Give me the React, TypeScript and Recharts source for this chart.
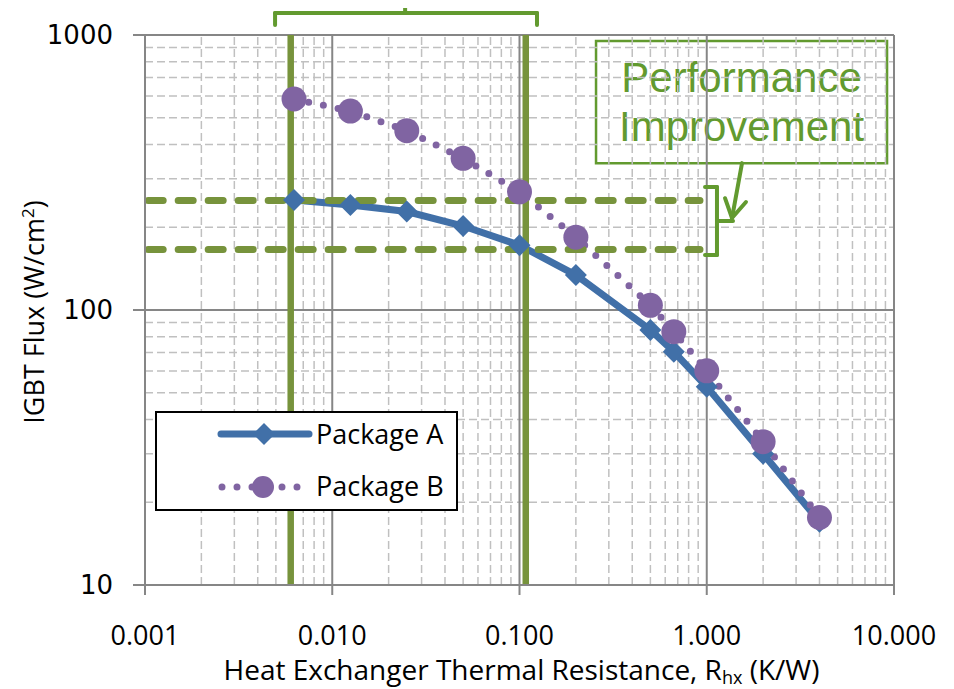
import React from 'react';
import { LineChart, Line, XAxis, YAxis, ReferenceLine, ReferenceArea, Legend, Label } from 'recharts';

// ---- data ----
const rhx = [0.00625, 0.0125, 0.025, 0.05, 0.1, 0.2, 0.5, 0.667, 1, 2, 4];
const packageA = [251, 241, 228, 202, 172, 134, 84.6, 70.5, 52.6, 30.0, 17.0];
const packageB = [585, 529, 449, 356, 269, 184, 104, 83.4, 60.1, 33.2, 17.6];
const xTicks = [0.001, 0.01, 0.1, 1, 10];
const yTicks = [10, 100, 1000];
const rangeLines = [0.006, 0.108];
const fluxLevels = [250, 166];
const fluxLineEnd = 0.92;

// annotation anchors (data coordinates)
const topBracketX = [0.00495, 0.0245, 0.124];
const topBracketY = [1087, 1202, 1400];
const rightBracketX = [0.979, 1.134, 1.381];
const rightBracketY = [280, 210.7, 158.5];
const arrowFrom = { x: 1.543, y: 342 };
const arrowTip = { x: 1.364, y: 216 };
const arrowWings = [{ x: 1.252, y: 255 }, { x: 1.62, y: 247 }];
const calloutBox = { x1: 0.2563, x2: 9.18, y1: 342, y2: 951 };
const calloutText = ['Performance', 'Improvement'];

const data = rhx.map((x, i) => ({ x, a: packageA[i], b: packageB[i] }));

const minorX: number[] = [];
for (let e = -3; e < 1; e++) for (let m = 2; m <= 9; m++) minorX.push(+(m * Math.pow(10, e)).toPrecision(3));
const minorY: number[] = [];
for (let e = 1; e < 3; e++) for (let m = 2; m <= 9; m++) minorY.push(+(m * Math.pow(10, e)).toPrecision(3));
const majorX = [0.01, 0.1, 1, 10];
const majorY = [100, 1000];

const BLUE = '#4170A8';
const PURPLE = '#8064A2';
const OLIVE = '#77933C';
const GREEN = '#629A2F';
const GRID_MAJOR = '#868686';
const GRID_MINOR = '#C0C0C0';
const CAL = '"Open Sans", Lato, sans-serif';

const diamond = (p: any) => {
  const { cx, cy, index } = p;
  if (cx == null || cy == null) return <g key={`da-${index}`} />;
  const r = 11;
  return (
    <polygon key={`da-${index}`} points={`${cx},${cy - r} ${cx + r},${cy} ${cx},${cy + r} ${cx - r},${cy}`} fill={BLUE} />
  );
};
const bigDot = (p: any) => {
  const { cx, cy, index } = p;
  if (cx == null || cy == null) return <g key={`db-${index}`} />;
  return <circle key={`db-${index}`} cx={cx} cy={cy} r={12.5} fill={PURPLE} />;
};

const XTitle = (props: any) => {
  const vb = props.viewBox || { x: 145, y: 585, width: 749 };
  const cx = vb.x + vb.width / 2 + 2;
  return (
    <text x={cx} y={vb.y + 95} textAnchor="middle" fontFamily={CAL} fontSize={28} fill="#000">
      Heat Exchanger Thermal Resistance, R<tspan fontSize={18} dy={4}>hx</tspan>
      <tspan dy={-4}> (K/W)</tspan>
    </text>
  );
};

const YTitle = (props: any) => {
  const vb = props.viewBox || { x: 85, y: 35, height: 550 };
  const cy = vb.y + vb.height / 2 + 2;
  return (
    <text transform={`translate(44,${cy}) rotate(-90)`} textAnchor="middle" fontFamily={CAL} fontSize={27} fill="#000">
      IGBT Flux (W/cm<tspan fontSize={17} dy={-10}>2</tspan>
      <tspan dy={10}>)</tspan>
    </text>
  );
};

const CalloutLabel = (props: any) => {
  const vb = props.viewBox;
  if (!vb) return null;
  const cx = vb.x + vb.width / 2;
  return (
    <g>
      <text x={cx} y={vb.y + 51} textAnchor="middle" fontFamily='"Liberation Sans", Arial, sans-serif' fontSize={42} fill={GREEN}>
        {calloutText[0]}
      </text>
      <text x={cx} y={vb.y + 100} textAnchor="middle" fontFamily='"Liberation Sans", Arial, sans-serif' fontSize={42} fill={GREEN}>
        {calloutText[1]}
      </text>
    </g>
  );
};

const LegendBox = () => (
  <div style={{ width: 303, height: 100, border: '2px solid #000', background: '#fff', boxSizing: 'border-box' }}>
    <svg width={299} height={96} style={{ display: 'block' }}>
      <line x1={64} y1={21} x2={152} y2={21} stroke={BLUE} strokeWidth={7} strokeLinecap="round" />
      <polygon points="107,10 118,21 107,32 96,21" fill={BLUE} />
      <text x={159} y={31} fontFamily={CAL} fontSize={27} fill="#000">Package A</text>
      <line x1={65} y1={74} x2={152} y2={74} stroke={PURPLE} strokeWidth={7} strokeDasharray="0 15" strokeLinecap="round" />
      <circle cx={106} cy={74} r={11} fill={PURPLE} />
      <text x={159} y={83} fontFamily={CAL} fontSize={27} fill="#000">Package B</text>
    </svg>
  </div>
);

const seg = (x1: number, y1: number, x2: number, y2: number) => [{ x: x1, y: y1 }, { x: x2, y: y2 }];

export default function App() {
  const annot = { stroke: GREEN, strokeWidth: 4, strokeLinecap: 'round' as const, ifOverflow: 'visible' as const };
  return (
    <div style={{ margin: '-8px 0 0 -8px', width: 954, height: 689, background: '#fff' }}>
      <LineChart width={954} height={689} data={data} margin={{ top: 35, right: 60, bottom: 44, left: 85 }}>
        {minorX.map((v) => (
          <ReferenceLine key={`mx-${v}`} x={v} stroke={GRID_MINOR} strokeWidth={1.5} strokeDasharray="8 4" />
        ))}
        {minorY.map((v) => (
          <ReferenceLine key={`my-${v}`} y={v} stroke={GRID_MINOR} strokeWidth={1.5} strokeDasharray="8 4" />
        ))}
        {majorX.map((v) => (
          <ReferenceLine key={`Mx-${v}`} x={v} stroke={GRID_MAJOR} strokeWidth={2} />
        ))}
        {majorY.map((v) => (
          <ReferenceLine key={`My-${v}`} y={v} stroke={GRID_MAJOR} strokeWidth={2} />
        ))}
        <XAxis
          dataKey="x"
          type="number"
          scale="log"
          domain={[0.001, 10]}
          allowDataOverflow
          ticks={xTicks}
          tickFormatter={(v: number) => v.toFixed(3)}
          height={60}
          tickSize={10}
          tickMargin={31}
          axisLine={{ stroke: GRID_MAJOR, strokeWidth: 2 }}
          tickLine={{ stroke: GRID_MAJOR, strokeWidth: 2 }}
          tick={{ fontFamily: CAL, fontSize: 27, fill: '#000' }}
        >
          <Label content={XTitle} />
        </XAxis>
        <YAxis
          type="number"
          scale="log"
          domain={[10, 1000]}
          allowDataOverflow
          ticks={yTicks}
          width={60}
          tickSize={12}
          tickMargin={20}
          axisLine={{ stroke: GRID_MAJOR, strokeWidth: 2 }}
          tickLine={{ stroke: GRID_MAJOR, strokeWidth: 2 }}
          tick={{ fontFamily: '"DejaVu Sans", Verdana, sans-serif', fontSize: 26, fill: '#000' }}
        >
          <Label content={YTitle} />
        </YAxis>
        <Line
          dataKey="a"
          name="Package A"
          stroke={BLUE}
          strokeWidth={7}
          dot={diamond}
          activeDot={false}
          isAnimationActive={false}
        />
        <Line
          dataKey="b"
          name="Package B"
          stroke={PURPLE}
          strokeWidth={7}
          strokeDasharray="0 15"
          strokeLinecap="round"
          dot={bigDot}
          activeDot={false}
          isAnimationActive={false}
        />
        {fluxLevels.map((v) => (
          <ReferenceLine
            key={`fl-${v}`}
            segment={seg(0.00104, v, fluxLineEnd, v)}
            stroke={OLIVE}
            strokeWidth={7}
            strokeDasharray="15 15"
            strokeLinecap="round"
          />
        ))}
        {rangeLines.map((v) => (
          <ReferenceLine key={`rl-${v}`} x={v} stroke={OLIVE} strokeWidth={6.5} />
        ))}
        {/* top bracket */}
        <ReferenceLine segment={seg(topBracketX[0], topBracketY[0], topBracketX[0], topBracketY[1])} {...annot} />
        <ReferenceLine segment={seg(topBracketX[0], topBracketY[1], topBracketX[2], topBracketY[1])} {...annot} />
        <ReferenceLine segment={seg(topBracketX[2], topBracketY[1], topBracketX[2], topBracketY[0])} {...annot} />
        <ReferenceLine segment={seg(topBracketX[1], topBracketY[1], topBracketX[1], topBracketY[2])} {...annot} />
        {/* right bracket */}
        <ReferenceLine segment={seg(rightBracketX[0], rightBracketY[0], rightBracketX[1], rightBracketY[0])} {...annot} />
        <ReferenceLine segment={seg(rightBracketX[1], rightBracketY[0], rightBracketX[1], rightBracketY[2])} {...annot} />
        <ReferenceLine segment={seg(rightBracketX[1], rightBracketY[2], rightBracketX[0], rightBracketY[2])} {...annot} />
        <ReferenceLine segment={seg(rightBracketX[1], rightBracketY[1], rightBracketX[2], rightBracketY[1])} {...annot} />
        {/* callout box */}
        <ReferenceArea
          x1={calloutBox.x1}
          x2={calloutBox.x2}
          y1={calloutBox.y1}
          y2={calloutBox.y2}
          fill="#fff"
          fillOpacity={1}
          stroke={GREEN}
          strokeWidth={2.5}
          ifOverflow="visible"
          label={{ content: CalloutLabel } as any}
        />
        {/* arrow */}
        <ReferenceLine segment={seg(arrowFrom.x, arrowFrom.y, arrowTip.x, arrowTip.y)} {...annot} />
        {arrowWings.map((w, i) => (
          <ReferenceLine key={`aw-${i}`} segment={seg(w.x, w.y, arrowTip.x, arrowTip.y)} {...annot} />
        ))}
        <Legend
          layout="horizontal"
          verticalAlign="middle"
          align="center"
          content={LegendBox}
          wrapperStyle={{ left: 155, top: 411, width: 303, height: 100 }}
        />
      </LineChart>
    </div>
  );
}
